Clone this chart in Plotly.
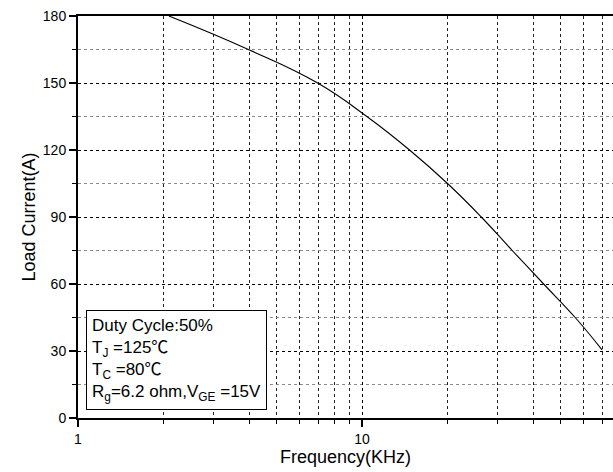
import plotly.graph_objects as go
import numpy as np

# Load current vs switching frequency (points where the curve crosses each 15 A step)
freq_khz = [2.09, 3.98, 6.98, 10.4, 14.7, 20.0, 26.3, 33.8, 43.6, 56.3, 70]
load_current = [180, 165, 150, 135, 120, 105, 90, 75, 60, 45, 30.5]

x_major = [1, 10, 100]
x_minor = [2, 3, 4, 5, 6, 7, 8, 9, 20, 30, 40, 50, 60, 70, 80, 90]
y_major = [0, 30, 60, 90, 120, 150, 180]
y_minor = [15, 45, 75, 105, 135, 165]

DEG = '<span style="font-family:Noto Sans CJK SC">℃</span>'
conditions = [
    "Duty Cycle:50%",
    "T<sub>J</sub> =125" + DEG,
    "T<sub>C</sub> =80" + DEG,
    "R<sub>g</sub>=6.2 ohm,V<sub>GE</sub> =15V",
]

FONT = "Liberation Sans, Arial, sans-serif"

fig = go.Figure()
fig.add_trace(go.Scatter(
    x=freq_khz, y=load_current, mode="lines",
    line=dict(color="black", width=1.1, shape="spline", smoothing=1.3),
    showlegend=False, hoverinfo="x+y",
))

fig.update_layout(
    width=613, height=472,
    margin=dict(l=78, r=0, t=16, b=54),
    paper_bgcolor="white", plot_bgcolor="white",
    font=dict(family=FONT, size=14, color="black"),
    xaxis=dict(
        type="log", range=[0, np.log10(76.5)],
        tickvals=x_major, ticktext=[str(v) for v in x_major],
        ticks="outside", ticklen=7, tickwidth=1.5, tickcolor="black",
        showline=True, linecolor="black", linewidth=2, mirror=True,
        showgrid=True, gridcolor="black", griddash="dot", gridwidth=1,
        zeroline=False,
        minor=dict(tickvals=x_minor, ticks="outside", ticklen=4, tickwidth=1.2,
                   tickcolor="black", showgrid=True, gridcolor="#222222",
                   griddash="dot", gridwidth=1),
        title=dict(text="Frequency(KHz)", font=dict(size=18), standoff=1),
        tickfont=dict(size=14),
    ),
    yaxis=dict(
        range=[0, 180],
        tickvals=y_major,
        ticks="outside", ticklen=7, tickwidth=1.5, tickcolor="black",
        showline=True, linecolor="black", linewidth=2, mirror=False,
        showgrid=True, gridcolor="black", griddash="dot", gridwidth=1,
        zeroline=False,
        minor=dict(tickvals=y_minor, ticks="outside", ticklen=4, tickwidth=1.2,
                   tickcolor="black", showgrid=True, gridcolor="#8a8a8a",
                   griddash="dot", gridwidth=1),
        title=dict(text="Load Current(A)", font=dict(size=18), standoff=3),
        tickfont=dict(size=14),
    ),
)

fig.add_annotation(
    xref="paper", yref="paper", x=0.0145, y=0.02,
    xanchor="left", yanchor="bottom", align="left",
    text="<br>".join(conditions), showarrow=False,
    font=dict(family=FONT, size=17, color="black"),
    bgcolor="white", bordercolor="black", borderwidth=1, borderpad=5,
)

fig.write_html("out.html")
